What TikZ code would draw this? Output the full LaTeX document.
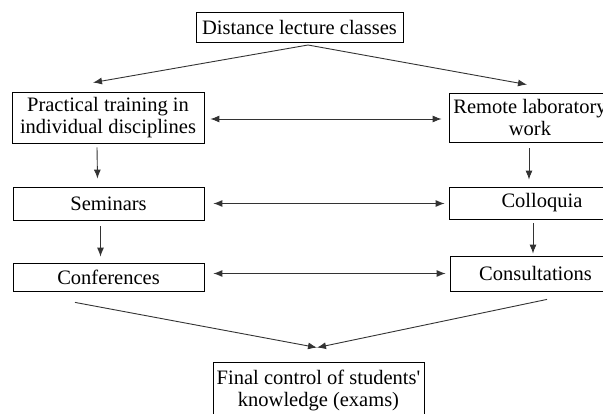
\documentclass[tikz,border=0pt]{standalone}
\usepackage{fontspec}
\setmainfont{Liberation Serif}
\usetikzlibrary{arrows.meta}

\begin{document}
\begin{tikzpicture}[x=1pt, y=-1pt,
		box/.style={align=center, draw, line width=0.8pt, inner sep=0pt, font=\fontsize{20.5}{22}\selectfont},
		arr/.style={-{Latex[length=9pt,width=7pt]}, line width=0.9pt, draw=black!80},
		dblarr/.style={{Latex[length=9pt,width=7pt]}-{Latex[length=9pt,width=7pt]}, line width=0.9pt, draw=black!80}]
	\useasboundingbox (0,0) rectangle (603,414);
	
	\node[box, minimum width=207pt, minimum height=30pt] (dist) at (299.5,27) {Distance lecture classes};
	\node[box, minimum width=192pt, minimum height=51pt] (prac) at (108,117.5) {Practical training in\\individual disciplines};
	\node[box, minimum width=162pt, minimum height=49pt] (remote) at (530,117.5) {Remote laboratory\\work};
	\node[box, minimum width=191pt, minimum height=33pt] (sem) at (108.5,203.5) {Seminars};
	\node[box, minimum width=186pt, minimum height=32pt] (coll) at (542,203) {Colloquia};
	\node[box, minimum width=191pt, minimum height=28pt] (conf) at (108.5,277) {Conferences};
	\node[box, minimum width=171pt, minimum height=35pt] (cons) at (535.5,273.5) {Consultations};
	\node[box, minimum width=211pt, minimum height=56pt] (final) at (318.5,390) {Final control of students\textquotesingle\\knowledge (exams)};
	
	\coordinate (fork) at (308,45);
	\draw[arr] (fork) -- ([xshift=-15pt,yshift=9pt]prac.north);
	\draw[arr] (fork) -- ([xshift=-3pt,yshift=8pt]remote.north);
	
	\draw[dblarr] ([xshift=6pt,yshift=-1.5pt]prac.east) -- ([xshift=-7pt,yshift=-1.5pt]remote.west);
	\draw[dblarr] ([xshift=9pt]sem.east) -- ([xshift=-4pt]coll.west |- sem.east);
	\draw[dblarr] ([xshift=9pt]conf.east |- cons.west) -- ([xshift=-4pt]cons.west);
	
	\draw[arr] ([xshift=-11pt,yshift=-4pt]prac.south) -- ([xshift=-11pt,yshift=8pt]sem.north);
	\draw[arr] ([xshift=-8pt,yshift=-6pt]sem.south) -- ([xshift=-8pt,yshift=6pt]conf.north);
	\draw[arr] ([xshift=-1pt,yshift=-6pt]remote.south) -- ([xshift=-1pt,yshift=7pt]remote.south |- coll.north);
	\draw[arr] ([xshift=-9pt,yshift=-4pt]coll.south) -- ([xshift=-9pt,yshift=2pt]coll.south |- cons.north);
	
	\draw[arr] ([xshift=-33.5pt,yshift=-11pt]conf.south) -- ([xshift=-1.5pt,yshift=14pt]final.north);
	\draw[arr] ([xshift=11.5pt,yshift=-8pt]cons.south) -- ([xshift=-1.5pt,yshift=14pt]final.north);
\end{tikzpicture}
\end{document}
